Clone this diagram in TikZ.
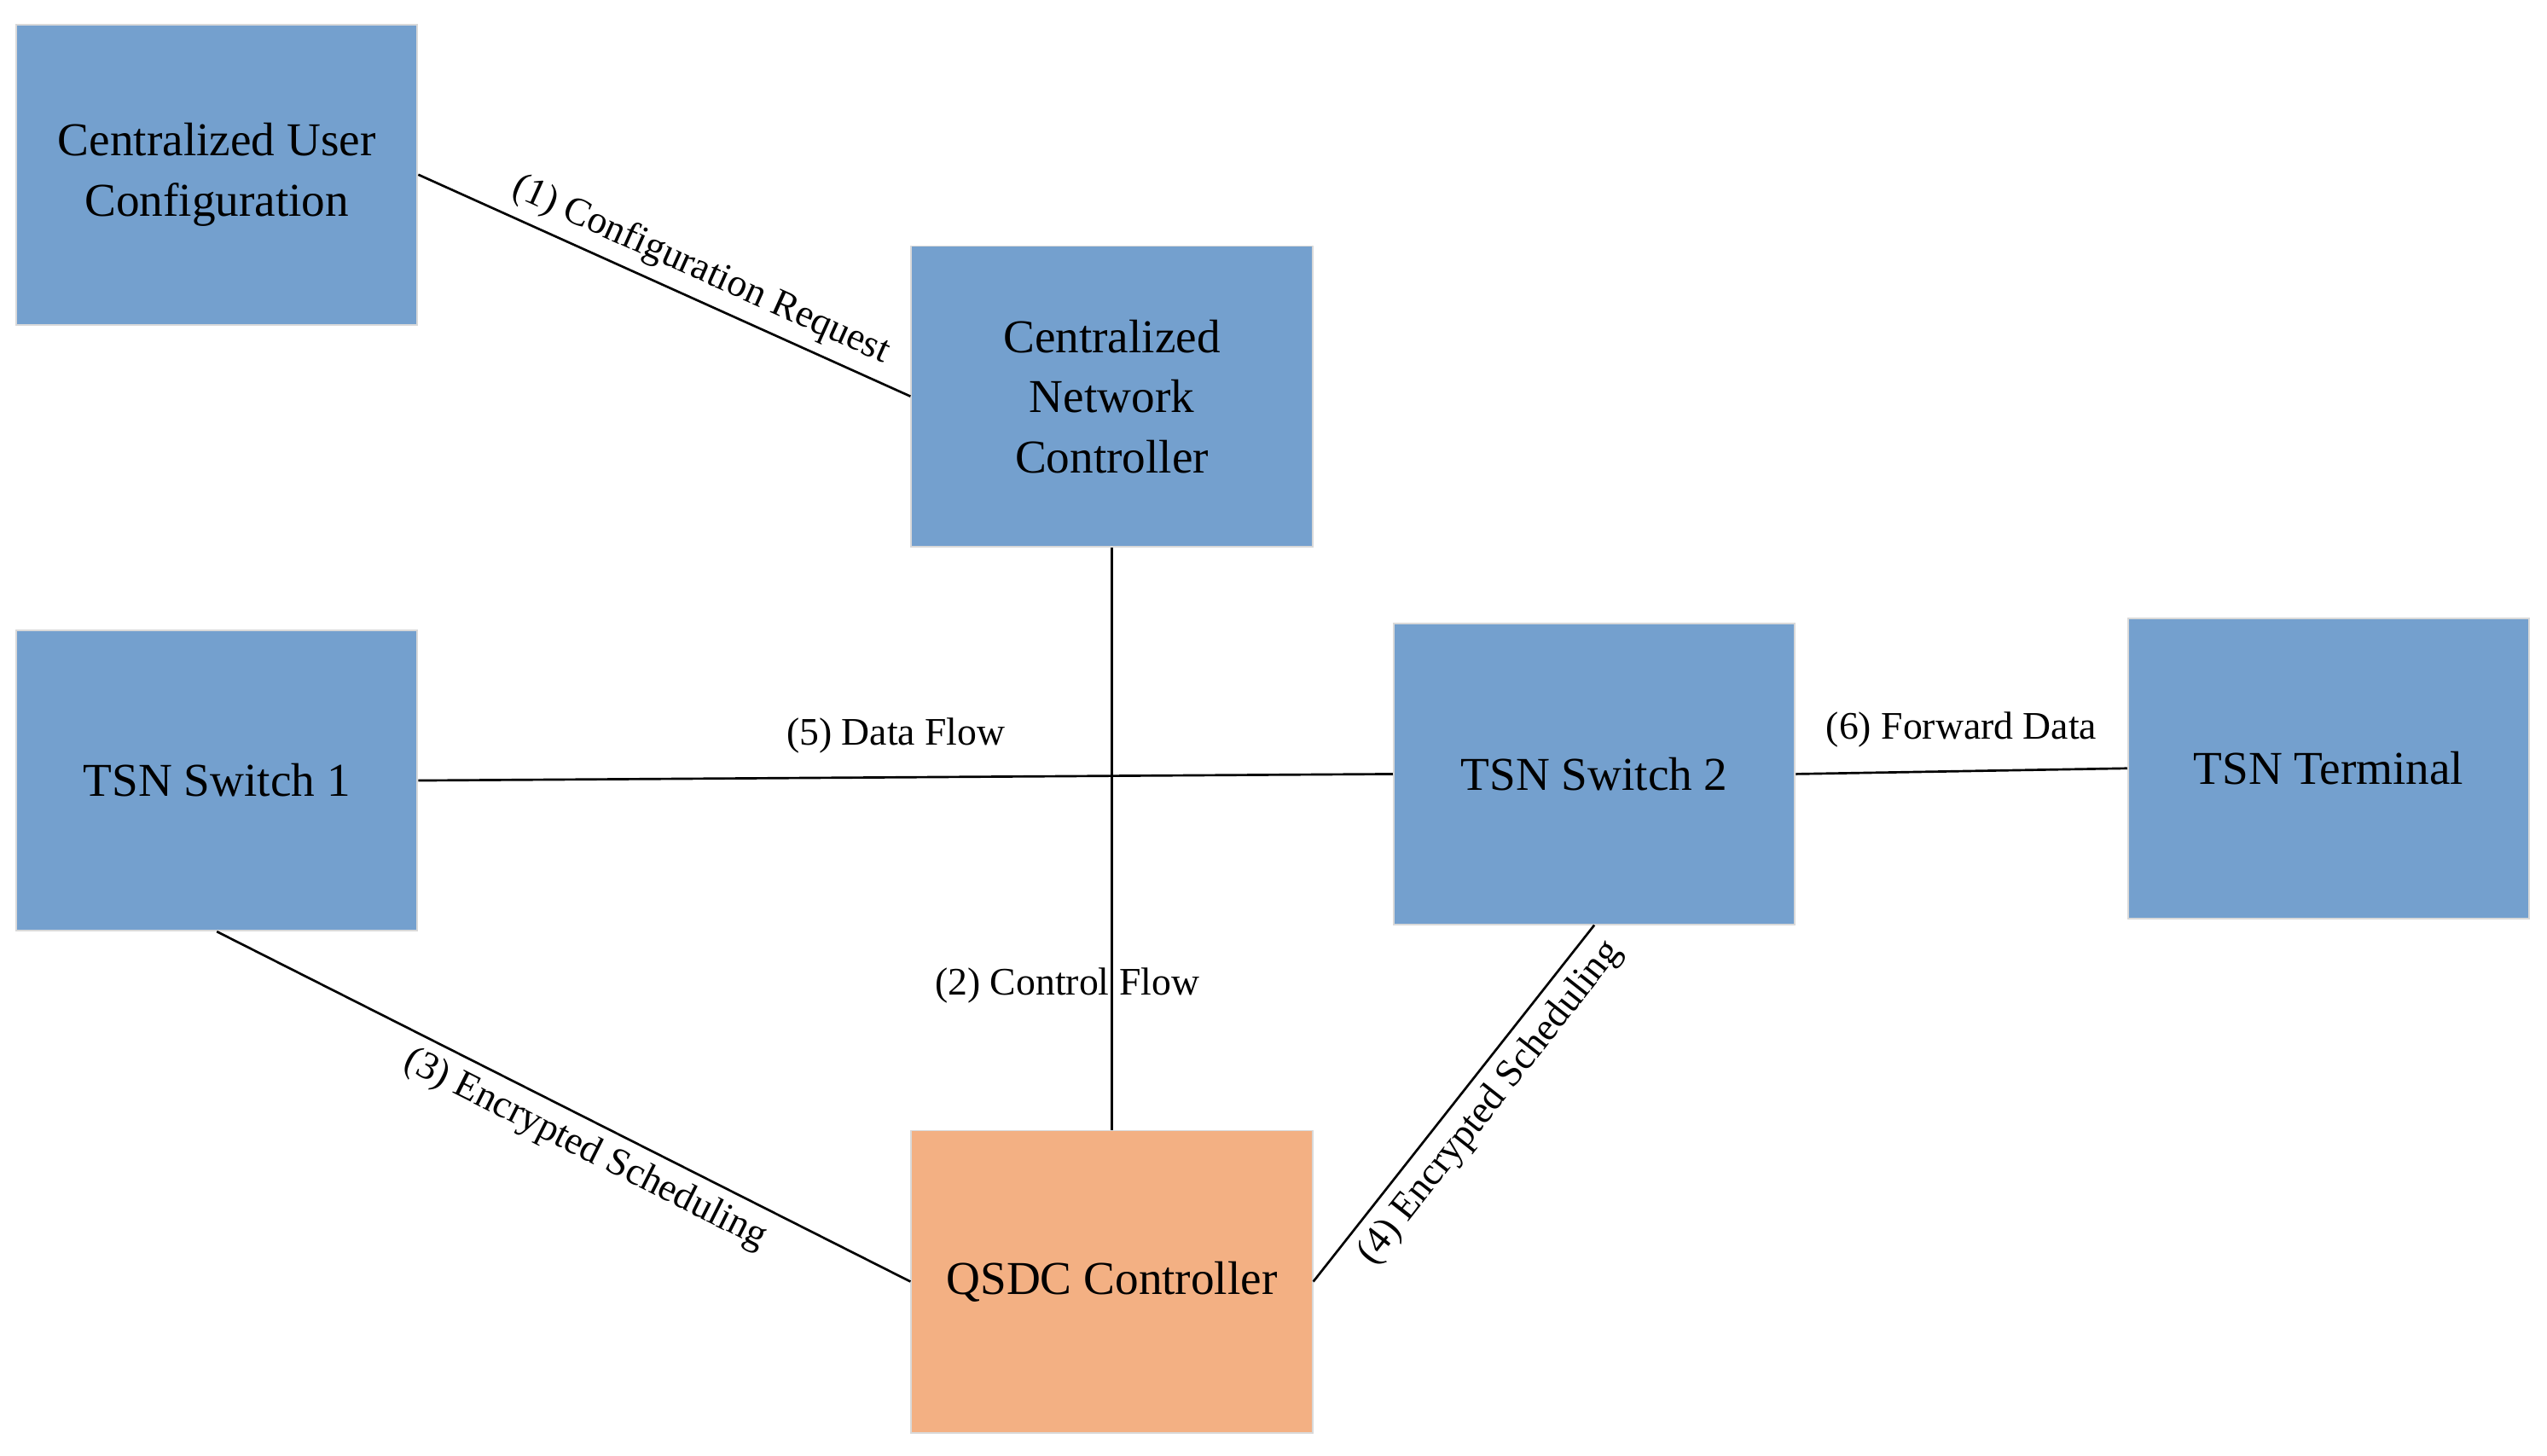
\documentclass[tikz,border=0pt]{standalone}
\usepackage{fontspec}
\setmainfont{Liberation Serif}
\begin{document}
\begin{tikzpicture}[x=0.5pt,y=-0.5pt,
 box/.style={draw=white!85!black,line width=0.5pt,fill=bl,minimum width=123.5pt,minimum height=92.5pt,align=center,font=\fontsize{14.5}{18.5}\selectfont,inner sep=0pt},
 lbl/.style={font=\fontsize{12}{13}\selectfont,inner sep=3pt},
 ln/.style={line width=0.7pt}]
\definecolor{bl}{RGB}{116,160,206}
\definecolor{or}{RGB}{243,176,131}
\useasboundingbox (0,0) rectangle (1568,896);
\node[box] (cuc) at (133.5,107.5) {Centralized User\\Configuration};
\node[box] (cnc) at (684.5,244) {Centralized\\Network\\Controller};
\node[box] (s1) at (133.5,480.5) {TSN Switch 1};
\node[box] (s2) at (981.5,476.5) {TSN Switch 2};
\node[box] (term) at (1433.5,473) {TSN Terminal};
\node[box,fill=or,minimum height=93pt] (q) at (684.5,789) {QSDC Controller};
\draw[ln] (cuc.east) -- node[lbl,above,sloped,pos=0.55] {(1) Configuration Request} (cnc.west);
\draw[ln] (cnc.south) -- (q.north);
\node[lbl] (l2) at (657,607) {(2) Control Flow};
\draw[ln] (s1.south) -- node[lbl,below,sloped,pos=0.55] {(3) Encrypted Scheduling} (q.west);
\draw[ln] (q.east) -- node[lbl,below,sloped,pos=0.55] {(4) Encrypted Scheduling} (s2.south);
\draw[ln] (s1.east) -- node[lbl,above,pos=0.49,yshift=4pt] {(5) Data Flow} (s2.west);
\draw[ln] (s2.east) -- node[lbl,above,yshift=4pt] {(6) Forward Data} (term.west);
\end{tikzpicture}
\end{document}
